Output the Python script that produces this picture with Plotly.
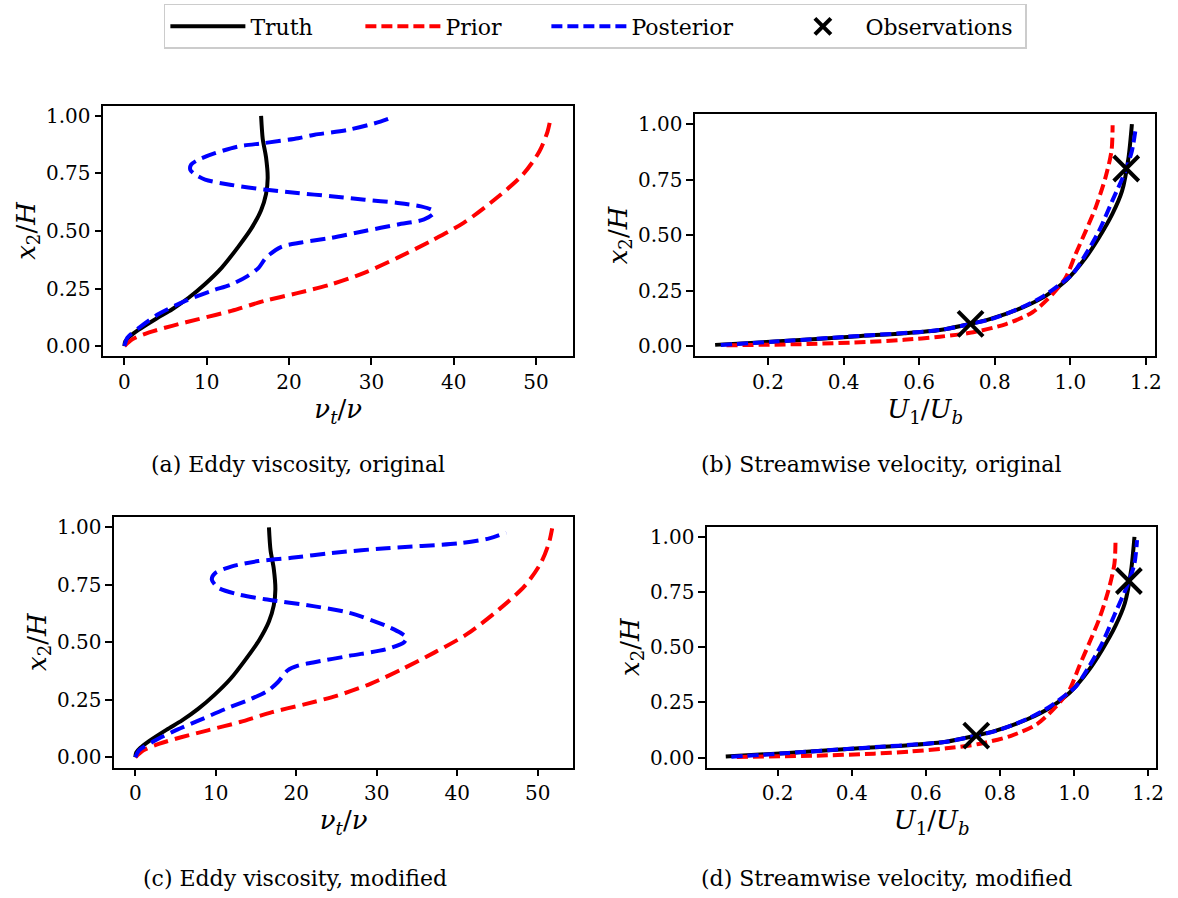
import plotly.graph_objects as go

# ---------------- data ----------------
# Eddy viscosity profiles nu_t/nu vs x2/H
truth_nu_y = [0, 0.02, 0.04, 0.07, 0.12, 0.16, 0.21, 0.27, 0.34, 0.43, 0.51, 0.59, 0.66, 0.73, 0.82, 0.90, 1.0]
truth_nu_x = [0, 0.1, 0.6, 1.7, 3.9, 5.8, 7.8, 9.8, 11.8, 13.8, 15.4, 16.6, 17.2, 17.4, 17.2, 16.8, 16.6]

prior_nu_y = [0, 0.03, 0.059, 0.088, 0.117, 0.153, 0.196, 0.23, 0.268, 0.319, 0.384, 0.456, 0.535, 0.643, 0.745, 0.845, 0.932, 0.995]
prior_nu_x = [0, 1.0, 3.0, 5.8, 9.0, 13.0, 17.0, 21.0, 25.1, 29.2, 33.2, 37.2, 41.2, 45.2, 48.4, 50.4, 51.4, 51.8]

post_nu_orig_y = [0, 0.037, 0.08, 0.14, 0.196, 0.24, 0.268, 0.305, 0.34, 0.384, 0.43, 0.45, 0.47, 0.50, 0.528, 0.55,
                  0.575, 0.59, 0.607, 0.622, 0.636, 0.651, 0.665, 0.68, 0.70, 0.723, 0.745, 0.766, 0.788, 0.81,
                  0.838, 0.867, 0.882, 0.903, 0.918, 0.939, 0.975, 0.997]
post_nu_orig_x = [0, 0.36, 1.8, 4.2, 7.4, 10.6, 13.0, 15.0, 16.3, 17.2, 19.0, 21.5, 25.1, 29.2, 33.2, 36.4,
                  37.5, 37.4, 36.0, 33.2, 29.2, 25.1, 21.0, 17.0, 13.0, 9.8, 8.6, 8.0, 8.1, 9.0,
                  11.0, 13.8, 17.0, 21.1, 23.1, 27.1, 31.1, 32.8]

post_nu_mod_y = [0, 0.03, 0.066, 0.11, 0.16, 0.21, 0.254, 0.29, 0.326, 0.377, 0.398, 0.412, 0.441, 0.47, 0.50,
                 0.52, 0.54, 0.571, 0.628, 0.657, 0.687, 0.708, 0.737, 0.773, 0.80, 0.83, 0.853, 0.867, 0.888,
                 0.909, 0.931, 0.952, 0.977]
post_nu_mod_x = [0, 0.45, 2.1, 4.6, 7.9, 11.2, 14.4, 16.5, 17.7, 18.9, 20.2, 22.1, 26.6, 31.2, 33.4,
                 33.7, 33.0, 31.2, 26.6, 22.1, 16.1, 12.8, 10.3, 9.5, 9.9, 12.0, 15.3, 19.4, 24.4,
                 31.2, 40.4, 44.0, 46.1]

# Streamwise velocity profiles U1/Ub vs x2/H
truth_U_y = [0.005, 0.02, 0.042, 0.057, 0.072, 0.099, 0.121, 0.174, 0.226, 0.294, 0.399, 0.489, 0.594, 0.699, 0.849, 1.0]
truth_U_x = [0.06, 0.218, 0.42, 0.56, 0.655, 0.734, 0.787, 0.874, 0.935, 0.988, 1.041, 1.076, 1.111, 1.137, 1.154, 1.163]

prior_U_y = [0.003, 0.009, 0.018, 0.028, 0.042, 0.062, 0.099, 0.152, 0.234, 0.309, 0.414, 0.519, 0.624, 0.759, 0.879, 0.995]
prior_U_x = [0.09, 0.305, 0.46, 0.56, 0.655, 0.743, 0.83, 0.9, 0.953, 0.988, 1.014, 1.041, 1.067, 1.093, 1.109, 1.112]

post_U_orig_y = [0.004, 0.02, 0.042, 0.072, 0.099, 0.121, 0.174, 0.226, 0.294, 0.324, 0.414, 0.519, 0.654, 0.789, 0.879, 0.969]
post_U_orig_x = [0.075, 0.22, 0.41, 0.655, 0.734, 0.79, 0.872, 0.93, 0.985, 1.006, 1.041, 1.076, 1.111, 1.146, 1.163, 1.172]

post_U_mod_y = [0.004, 0.02, 0.042, 0.072, 0.099, 0.121, 0.174, 0.226, 0.294, 0.324, 0.414, 0.519, 0.654, 0.789, 0.879, 0.985]
post_U_mod_x = [0.075, 0.22, 0.41, 0.655, 0.734, 0.79, 0.872, 0.93, 0.985, 1.006, 1.041, 1.076, 1.111, 1.146, 1.163, 1.17]

obs_U_x = [0.736, 1.148]
obs_U_y = [0.10, 0.80]

nu_ticks = [0, 10, 20, 30, 40, 50]
U_ticks = [0.2, 0.4, 0.6, 0.8, 1.0, 1.2]
y_ticks = [0.0, 0.25, 0.50, 0.75, 1.00]

captions = ["(a) Eddy viscosity, original", "(b) Streamwise velocity, original",
            "(c) Eddy viscosity, modified", "(d) Streamwise velocity, modified"]

# ---------------- layout helpers ----------------
W, H = 1178, 898
FONT = "DejaVu Serif"
BLACK, RED, BLUE = "#000000", "#ff0000", "#0000ff"

def dx(l, r):
    return [l / W, r / W]

def dy(t, b):
    return [1 - b / H, 1 - t / H]

fig = go.Figure()

panels = [
    # (xaxis id, yaxis id, pixel box, xrange, yrange, kind)
    ("x", "y", (104, 577, 104, 356), [-2.57, 54.5], [-0.045, 1.045], "nu"),
    ("x2", "y2", (700, 1163, 113, 356), [0.0074, 1.2244], [-0.047, 1.0436], "U"),
    ("x3", "y3", (115, 577, 517, 769), [-2.63, 54.4], [-0.045, 1.046], "nu"),
    ("x4", "y4", (712, 1164, 527, 769), [0.0098, 1.2214], [-0.045, 1.046], "U"),
]

def add_line(xa, ya, x, y, color, dash, name, show, rank):
    fig.add_trace(go.Scatter(x=x, y=y, xaxis=xa, yaxis=ya, mode="lines", name=name,
                             line=dict(color=color, width=4, dash=dash, shape="spline", smoothing=0.8),
                             showlegend=show, legendrank=rank, hoverinfo="skip"))

def add_obs(xa, ya, show):
    fig.add_trace(go.Scatter(x=obs_U_x, y=obs_U_y, xaxis=xa, yaxis=ya, mode="markers",
                             name="Observations", showlegend=show, legendrank=4, hoverinfo="skip",
                             marker=dict(symbol="x-thin", size=25, color=BLACK,
                                         line=dict(color=BLACK, width=4))))

# panel (a)
add_line("x", "y", truth_nu_x, truth_nu_y, BLACK, "solid", "Truth", False, 1)
add_line("x", "y", prior_nu_x, prior_nu_y, RED, "15px,7px", "Prior", False, 2)
add_line("x", "y", post_nu_orig_x, post_nu_orig_y, BLUE, "15px,7px", "Posterior", False, 3)
# panel (b)  -> legend entries
add_line("x2", "y2", truth_U_x, truth_U_y, BLACK, "solid", "Truth", True, 1)
add_line("x2", "y2", prior_U_x, prior_U_y, RED, "11px,5px", "Prior", True, 2)
add_line("x2", "y2", post_U_orig_x, post_U_orig_y, BLUE, "11px,5px", "Posterior", True, 3)
add_obs("x2", "y2", True)
# panel (c)
add_line("x3", "y3", truth_nu_x, truth_nu_y, BLACK, "solid", "Truth", False, 1)
add_line("x3", "y3", prior_nu_x, prior_nu_y, RED, "15px,7px", "Prior", False, 2)
add_line("x3", "y3", post_nu_mod_x, post_nu_mod_y, BLUE, "15px,7px", "Posterior", False, 3)
# panel (d)
add_line("x4", "y4", truth_U_x, truth_U_y, BLACK, "solid", "Truth", False, 1)
add_line("x4", "y4", prior_U_x, prior_U_y, RED, "11px,5px", "Prior", False, 2)
add_line("x4", "y4", post_U_mod_x, post_U_mod_y, BLUE, "11px,5px", "Posterior", False, 3)
add_obs("x4", "y4", False)

# legend entry widths (per trace)
lw = {"Truth": 105, "Prior": 96, "Posterior": 144, "Observations": 155}
for tr in fig.data:
    if tr.showlegend:
        tr.legendwidth = lw[tr.name]

layout = dict(
    width=W, height=H, margin=dict(l=0, r=0, t=0, b=0),
    paper_bgcolor="white", plot_bgcolor="white",
    font=dict(family=FONT, size=20, color="black"),
    legend=dict(orientation="h", x=165 / W, xanchor="left", y=1 - 2 / H, yanchor="top",
                bgcolor="white", bordercolor="#cccccc", borderwidth=1.5,
                font=dict(family=FONT, size=22), itemwidth=75, traceorder="normal"),
    showlegend=True,
)

xtitle_nu = "<i>ν</i><sub><i>t</i></sub>/<i>ν</i>"
xtitle_U = "<i>U</i><sub>1</sub>/<i>U</i><sub><i>b</i></sub>"
ytitle = "<i>x</i><sub>2</sub>/<i>H</i>"

for xa, ya, (l, r, t, b), xr, yr, kind in panels:
    xkey = "xaxis" + xa[1:]
    ykey = "yaxis" + ya[1:]
    common = dict(showline=True, linecolor="black", linewidth=1.5, mirror=True,
                  ticks="outside", ticklen=7, tickwidth=1.5, tickcolor="black",
                  showgrid=False, zeroline=False, tickfont=dict(family=FONT, size=20))
    if kind == "nu":
        xt = dict(tickvals=nu_ticks, ticktext=[str(v) for v in nu_ticks],
                  title=dict(text=xtitle_nu, font=dict(size=26), standoff=4))
    else:
        xt = dict(tickvals=U_ticks, ticktext=["%.1f" % v for v in U_ticks],
                  title=dict(text=xtitle_U, font=dict(size=26), standoff=4))
    layout[xkey] = dict(domain=dx(l, r), range=xr, anchor=ya, **xt, **common)
    layout[ykey] = dict(domain=dy(t, b), range=yr, anchor=xa,
                        tickvals=y_ticks, ticktext=["%.2f" % v for v in y_ticks],
                        title=dict(text=ytitle, font=dict(size=26), standoff=3), **common)

fig.update_layout(**layout)

cap_pos = [(300, 465), (888, 465), (297, 880), (893, 880)]
for text, (cx, cy) in zip(captions, cap_pos):
    fig.add_annotation(text=text, x=cx / W, y=1 - cy / H, xref="paper", yref="paper",
                       xanchor="center", yanchor="middle", showarrow=False,
                       font=dict(family=FONT, size=22, color="black"))

fig.write_html("out.html")
